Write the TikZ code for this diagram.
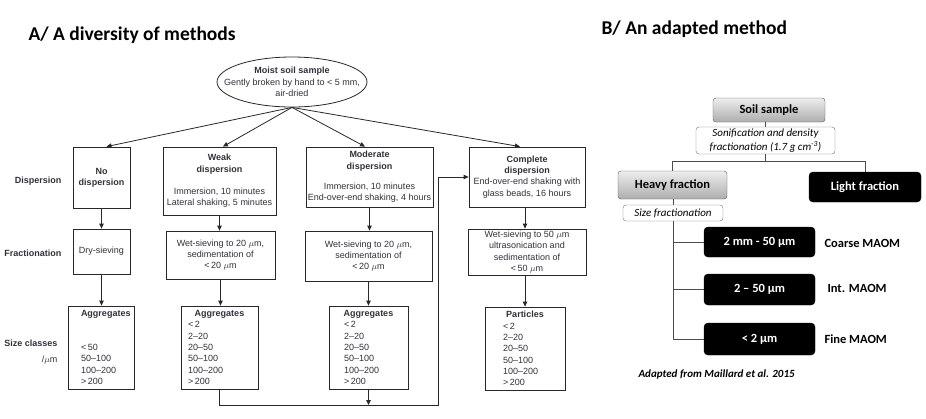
\documentclass[tikz,border=0pt]{standalone}
\usepackage{fontspec}
\setmainfont{Liberation Sans}
\newfontfamily\calfont{Carlito}
\usetikzlibrary{arrows.meta,shapes.geometric}
\definecolor{ink}{RGB}{50,48,58}
\definecolor{lin}{RGB}{40,40,40}
\begin{document}
\begin{tikzpicture}[x=1pt,y=-1pt,
  lt/.style={font=\fontsize{9}{11.3}\selectfont},
  box/.style={draw=lin, line width=0.8pt, rectangle, inner sep=1pt, align=center, text=ink, lt},
  lst/.style={draw=lin, line width=0.8pt, rectangle, inner ysep=1pt, align=left, text=ink, lt, minimum height=83pt},
  arr/.style={draw=lin, line width=0.8pt, -{Triangle[length=5pt,width=4.5pt]}},
  lab/.style={font=\bfseries\fontsize{9}{11.3}\selectfont, anchor=east, text=ink},
  gbox/.style={rounded corners=3pt, draw=black!65, top color=black!7, bottom color=black!32, font=\calfont\bfseries\fontsize{12.5}{14}\selectfont, text=black, inner sep=0pt},
  kbox/.style={rounded corners=4pt, fill=black, draw=black, text=white, font=\calfont\bfseries\fontsize{12.5}{14}\selectfont, inner sep=0pt},
  wbox/.style={rounded corners=3pt, draw=black!55, fill=white, font=\calfont\itshape\fontsize{11}{14}\selectfont, text=black, inner sep=0pt, align=center},
  blab/.style={font=\calfont\bfseries\fontsize{12.5}{14}\selectfont, anchor=west, text=black},
  bcon/.style={draw=black!70, line width=0.8pt},
  ttl/.style={font=\calfont\bfseries\fontsize{19.5}{22}\selectfont, anchor=west, text=black}
]
\fill[white] (0,0) rectangle (926,418);
\useasboundingbox (0,0) rectangle (926,418);

% ---------- titles ----------
\node[ttl] (ta) at (25,35) {A/ A diversity of methods};
\node[ttl] (tb) at (598,29) {B/ An adapted method};

% ---------- panel A ----------
\node[ellipse, draw=lin, line width=0.8pt, minimum width=150pt, minimum height=50pt, inner sep=0pt] (ell) at (292,82) {};
\node[align=center, lt, text=ink] (elltxt) at (ell.center) {\textbf{Moist soil sample}\\Gently broken by hand to < 5 mm,\\air-dried};

\node[lab] (ldisp) at (65,181) {Dispersion};
\node[lab] (lfrac) at (65,253) {Fractionation};
\node[lab] (lsize) at (61,343) {Size classes};
\node[lab, font=\fontsize{9}{11.3}\selectfont] (lum) at (61,360) {/$\mu$m};

\node[box, minimum width=57pt, minimum height=61pt, font=\bfseries\fontsize{9}{11.3}\selectfont] (nodisp) at (101.5,177.5) {No\\dispersion};
\node[box, minimum width=113pt, minimum height=68pt] (weak) at (219.5,181) {\textbf{Weak}\\\textbf{dispersion}\\[11pt]Immersion, 10 minutes\\Lateral shaking, 5 minutes};
\node[box, minimum width=127pt, minimum height=60pt] (mod) at (369.5,177) {\textbf{Moderate}\\\textbf{dispersion}\\[9pt]Immersion, 10 minutes\\End-over-end shaking, 4 hours};
\node[box, minimum width=116pt, minimum height=60pt] (comp) at (527,177) {\textbf{Complete}\\\textbf{dispersion}\\End-over-end shaking with\\glass beads, 16 hours};

\node[box, minimum width=57pt, minimum height=45pt] (dry) at (101.5,251.5) {Dry-sieving};
\node[box, minimum width=109pt, minimum height=48pt] (wetw) at (220.5,255) {Wet-sieving to 20 $\mu$m,\\sedimentation of\\<\,20 $\mu$m};
\node[box, minimum width=127pt, minimum height=50pt] (wetm) at (368.5,256) {Wet-sieving to 20 $\mu$m,\\sedimentation of\\<\,20 $\mu$m};
\node[box, minimum width=118pt, minimum height=46pt] (wetc) at (527,252) {Wet-sieving to 50 $\mu$m\\ultrasonication and\\sedimentation of\\<\,50 $\mu$m};

\node[lst, inner xsep=13pt, text width=40pt] (agg1) at (101,347.5) {\textbf{Aggregates}\\\mbox{}\\\mbox{}\\<\,50\\50--100\\100--200\\>\,200};
\node[lst, inner xsep=7pt, text width=63pt] (agg2) at (219.5,347.5) {\makebox[\linewidth][c]{\textbf{Aggregates}}\\<\,2\\2--20\\20--50\\50--100\\100--200\\>\,200};
\node[lst, inner xsep=15pt, text width=49pt] (agg3) at (368.5,347.5) {\makebox[\linewidth][c]{\textbf{Aggregates}}\\<\,2\\2--20\\20--50\\50--100\\100--200\\>\,200};
\node[lst, inner xsep=18pt, text width=44pt] (part) at (525,348.5) {\makebox[\linewidth][c]{\textbf{Particles}}\\<\,2\\2--20\\20--50\\50--100\\100--200\\>\,200};

\draw[arr] (ell.south) -- ([xshift=5pt]nodisp.north);
\draw[arr] (ell.south) -- ([xshift=3.5pt]weak.north);
\draw[arr] (ell.south) -- ([xshift=-4.5pt]mod.north);
\draw[arr] (ell.south) -- ([xshift=-7pt]comp.north);

\draw[arr] (nodisp.south) -- (nodisp.south |- dry.north);
\draw[arr] (weak.south) -- (weak.south |- wetw.north);
\draw[arr] (mod.south) -- (mod.south |- wetm.north);
\draw[arr] ([xshift=-2pt]comp.south) -- ([xshift=-2pt]comp.south |- wetc.north);

\draw[arr] (dry.south) -- (dry.south |- agg1.north);
\draw[arr] (wetw.south) -- (wetw.south |- agg2.north);
\draw[arr] (wetm.south) -- (wetm.south |- agg3.north);
\draw[arr] ([xshift=-2pt]wetc.south) -- ([xshift=-2pt]wetc.south |- part.north);

\coordinate (bot) at (0,405);
\coordinate (vx) at (438,0);
\draw[arr] (agg2.south) |- (vx |- bot) |- (comp.west);
\draw[arr] (agg3.south) -- (agg3.south |- bot);

% ---------- panel B ----------
\node[gbox, minimum width=112pt, minimum height=24pt] (soil) at (769,110) {Soil sample};
\node[wbox, minimum width=139pt, minimum height=27pt] (son) at (765.5,140.5) {Sonification and density\\fractionation (1.7 g cm\textsuperscript{-3})};
\node[gbox, minimum width=109pt, minimum height=28pt] (heavy) at (672.5,185) {Heavy fraction};
\node[kbox, minimum width=112pt, minimum height=30pt] (light) at (865,187) {Light fraction};
\node[wbox, minimum width=100pt, minimum height=16pt] (sizef) at (673,213) {Size fractionation};
\node[kbox, minimum width=111pt, minimum height=30pt] (b1) at (759.5,242) {2 mm - 50 µm};
\node[kbox, minimum width=111pt, minimum height=31pt] (b2) at (759.5,289.5) {2 – 50 µm};
\node[kbox, minimum width=111pt, minimum height=32pt] (b3) at (759.5,339) {< 2 µm};
\node[blab] (l1) at (821,243) {Coarse MAOM};
\node[blab] (l2) at (824,288) {Int. MAOM};
\node[blab] (l3) at (821,339) {Fine MAOM};
\node[font=\calfont\bfseries\itshape\fontsize{11}{13}\selectfont, anchor=west, text=black] (cite) at (635,374) {Adapted from Maillard et al. 2015};

\coordinate (bar) at (0,161);
\draw[bcon] (son.north |- soil.south) -- (son.north);
\draw[bcon] (son.south) -- (son.south |- bar);
\draw[bcon] (heavy.north) -- (heavy.north |- bar) -- (light.north |- bar) -- (light.north);
\draw[bcon] (sizef.north |- heavy.south) -- (sizef.north);
\draw[bcon] (sizef.south) |- (b1.west);
\draw[bcon] (sizef.south) |- (b2.west);
\draw[bcon] (sizef.south) |- (b3.west);
\end{tikzpicture}
\end{document}
